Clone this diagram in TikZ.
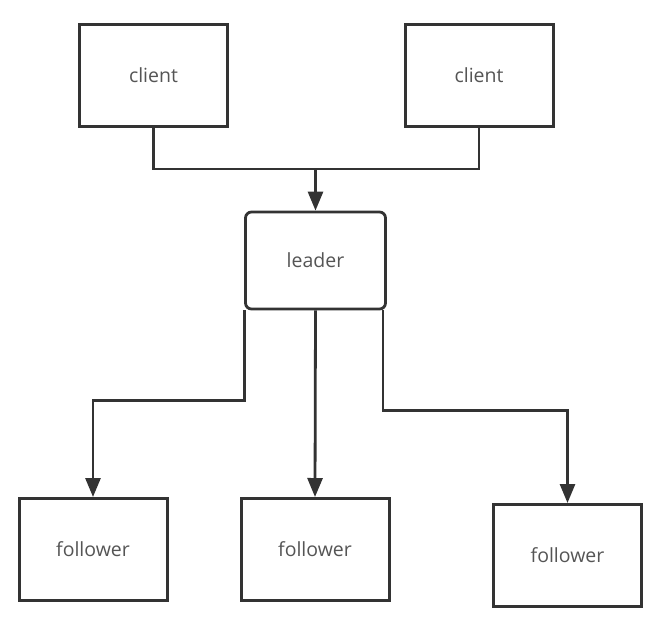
\documentclass[tikz,border=0pt]{standalone}
\usepackage{fontspec}
\setmainfont{Open Sans}
\usetikzlibrary{arrows.meta}
\definecolor{linegray}{HTML}{333333}
\definecolor{textgray}{HTML}{555555}
\begin{document}
\begin{tikzpicture}[x=1pt, y=-1pt,
    box/.style={draw=linegray, line width=3pt, rectangle, minimum width=148pt,
                minimum height=102pt, text centered, text=textgray, font=\fontsize{19.5}{22}\selectfont},
    lead/.style={box, rounded corners=6pt, minimum width=140pt, minimum height=97pt, line width=2.8pt},
    arr/.style={draw=linegray, line width=2.8pt, -{Triangle[length=19pt, width=15pt]}},
    link/.style={draw=linegray, line width=2.8pt}]
    \useasboundingbox (0,0) rectangle (666,619);
    \node[box]  (client1)   at (153.5, 75.5)  {client};
    \node[box]  (client2)   at (479,   75.5)  {client};
    \node[lead] (leader)    at (315.5, 260.5) {leader};
    \node[box]  (follower1) at (93,    549.5) {follower};
    \node[box]  (follower2) at (315,   549.5) {follower};
    \node[box]  (follower3) at (567.5, 555.5) {follower};
    \coordinate (join) at (315.5, 169);
    \draw[link] (client1.south) |- (join) -| (client2.south);
    \draw[arr] (join) -- (leader.north);
    \draw[arr] (leader.south west) -- ++(0, 90) -| (follower1.north);
    \draw[arr] (leader.south) -- (follower2.north);
    \draw[arr] ([xshift=-4pt]leader.south east) -- ++(0, 100) -| (follower3.north);
\end{tikzpicture}
\end{document}
